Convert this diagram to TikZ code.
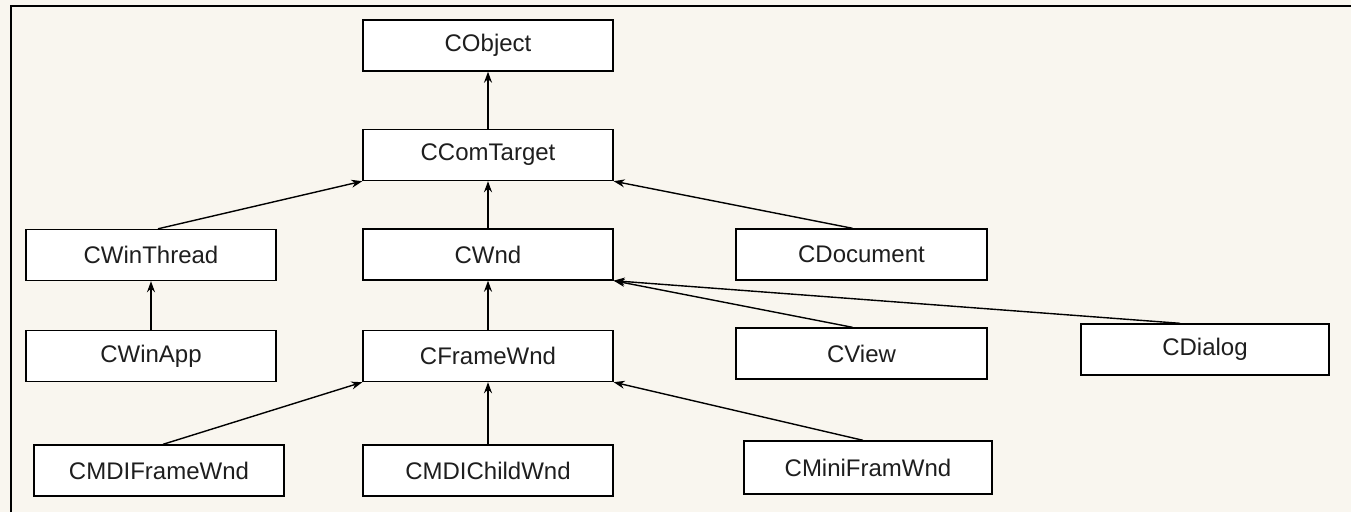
\documentclass[tikz,border=0pt]{standalone}
\usepackage{fontspec}
\setmainfont{Liberation Sans}
\usetikzlibrary{arrows.meta}
\definecolor{bgcol}{RGB}{249,246,239}
\definecolor{txtcol}{RGB}{30,30,30}
\begin{document}
\begin{tikzpicture}[x=1pt,y=-1pt,
  cls/.style={draw=black, fill=white, line width=1.4pt, minimum width=250pt, minimum height=51pt, inner sep=0pt, font=\fontsize{24}{28}\selectfont, text=txtcol},
  inh/.style={draw=black, line width=1.4pt, -{Stealth[length=11pt,width=8pt]}}]
\useasboundingbox (0,0) rectangle (1351,512);
\fill[bgcol] (0,0) rectangle (1351,512);
\draw[line width=2.5pt] (11,512) -- (11,6) -- (1351,6);

\node[cls] (cobject)      at (488,45.5)  {CObject};
\node[cls] (ccomtarget)   at (488,155)   {CComTarget};
\node[cls] (cwinthread)   at (151,255)   {CWinThread};
\node[cls] (cwnd)         at (488,254.5) {CWnd};
\node[cls, minimum width=251pt] (cdocument) at (861.5,254.5) {CDocument};
\node[cls] (cwinapp)      at (151,356)   {CWinApp};
\node[cls] (cframewnd)    at (488,356)   {CFrameWnd};
\node[cls, minimum width=251pt] (cview) at (861.5,353.5) {CView};
\node[cls, minimum width=248pt] (cdialog) at (1205,349.5) {CDialog};
\node[cls] (cmdiframewnd) at (159,470.5) {CMDIFrameWnd};
\node[cls] (cmdichildwnd) at (488,470.5) {CMDIChildWnd};
\node[cls, minimum width=248pt, minimum height=53pt] (cminiframwnd) at (868,467.5) {CMiniFramWnd};

\draw[inh] (ccomtarget) -- (cobject);
\draw[inh] ([xshift=7pt]cwinthread.north) -- (ccomtarget.south west);
\draw[inh] (cwnd) -- (ccomtarget);
\draw[inh] ([xshift=-9pt]cdocument.north) -- (ccomtarget.south east);
\draw[inh] (cwinapp) -- (cwinthread);
\draw[inh] (cframewnd) -- (cwnd);
\draw[inh] ([xshift=-9pt]cview.north) -- (cwnd.south east);
\draw[inh] ([xshift=-25pt]cdialog.north) -- (cwnd.south east);
\draw[inh] ([xshift=4pt]cmdiframewnd.north) -- (cframewnd.south west);
\draw[inh] (cmdichildwnd) -- (cframewnd);
\draw[inh] ([xshift=-5pt]cminiframwnd.north) -- (cframewnd.south east);
\end{tikzpicture}
\end{document}
